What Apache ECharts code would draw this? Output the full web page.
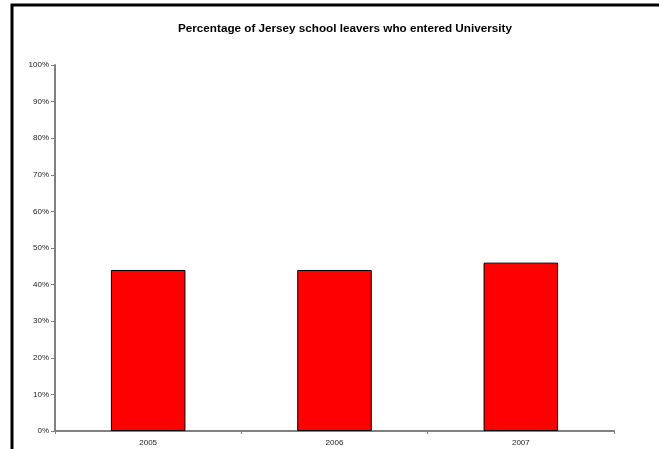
<!DOCTYPE html>
<html><head><meta charset="utf-8">
<script src="https://cdn.jsdelivr.net/npm/echarts@6/dist/echarts.min.js"></script>
<style>html,body{margin:0;padding:0;background:#fff}#c{width:661px;height:449px}</style>
</head><body><div id="c"></div>
<script>
const titleText = 'Percentage of Jersey school leavers who entered University';
const categories = ['2005', '2006', '2007'];
const values = [44, 44, 46];
const yMin = 0, yMax = 100, yStep = 10;

const chart = echarts.init(document.getElementById('c'), null, {renderer: 'canvas'});
chart.setOption({
  animation: false,
  backgroundColor: '#fff',
  title: {
    text: titleText, left: 173, top: 18,
    textStyle: {fontFamily: 'Liberation Sans, Arial', fontSize: 11.7, fontWeight: 'bold', color: '#000'}
  },
  graphic: [{
    type: 'polyline', silent: true,
    shape: {points: [[12, 460], [12, 5], [659, 5]]},
    style: {fill: 'none', stroke: '#000', lineWidth: 3}
  }],
  grid: {left: 55, right: 47, top: 65, bottom: 18},
  xAxis: {
    type: 'category', data: categories,
    axisLine: {lineStyle: {color: '#808080', width: 2}},
    axisTick: {show: true, alignWithLabel: false, length: 3, lineStyle: {color: '#808080'}},
    axisLabel: {fontFamily: 'Liberation Sans, Arial', fontSize: 8, color: '#222', margin: 8}
  },
  yAxis: {
    type: 'value', min: yMin, max: yMax, interval: yStep,
    splitLine: {show: false},
    axisLine: {show: true, lineStyle: {color: '#808080', width: 2}},
    axisTick: {show: true, length: 4, lineStyle: {color: '#808080'}},
    axisLabel: {formatter: '{value}%', fontFamily: 'Liberation Sans, Arial', fontSize: 8, color: '#222', margin: 6}
  },
  series: [{
    type: 'bar', data: values, barWidth: '40%',
    itemStyle: {color: '#ff0000', borderColor: '#000', borderWidth: 1}
  }]
});
</script></body></html>
